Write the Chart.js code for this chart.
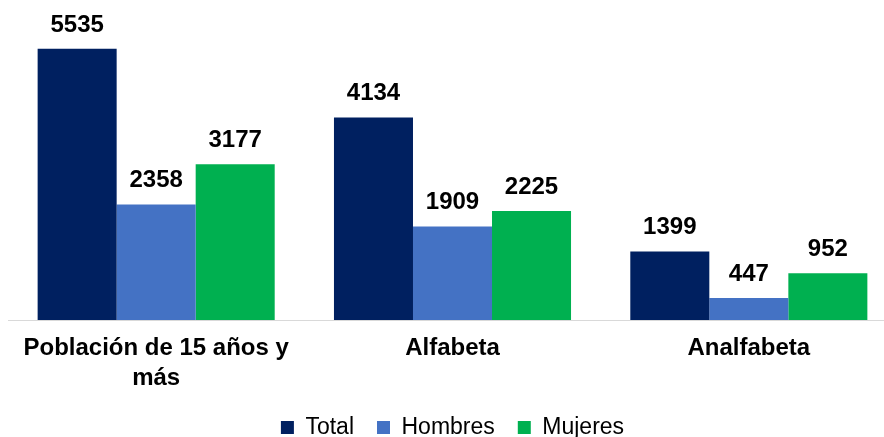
<!DOCTYPE html>
<html>
<head>
<meta charset="utf-8">
<script src="https://cdn.jsdelivr.net/npm/chart.js@4/dist/chart.umd.min.js"></script>
<style>
  html, body { margin: 0; padding: 0; overflow: hidden; background: #fff; }
  #wrap { width: 884px; height: 437px; overflow: hidden; position: relative; }
  canvas { position: absolute; left: 0; top: 0; }
</style>
</head>
<body>
<div id="wrap"><canvas id="chart" width="916" height="449"></canvas></div>
<script>
const CATEGORIES = [["Población de 15 años y", "más"], "Alfabeta", "Analfabeta"];
const TOTAL = [5535, 4134, 1399];
const HOMBRES = [2358, 1909, 447];
const MUJERES = [3177, 2225, 952];

const FONT = "'Liberation Sans', Arial, sans-serif";

// draws the value above every bar, from the bar elements' own positions
const valueLabels = {
  id: "valueLabels",
  afterDatasetsDraw(chart) {
    const ctx = chart.ctx;
    ctx.save();
    ctx.font = `bold 24px ${FONT}`;
    ctx.fillStyle = "#000";
    ctx.textAlign = "center";
    ctx.textBaseline = "alphabetic";
    chart.data.datasets.forEach((dataset, i) => {
      chart.getDatasetMeta(i).data.forEach((bar, j) => {
        ctx.fillText(String(dataset.data[j]), bar.x, bar.y - 17);
      });
    });
    ctx.restore();
  },
};

new Chart(document.getElementById("chart").getContext("2d"), {
  type: "bar",
  data: {
    labels: CATEGORIES,
    datasets: [
      { label: "Total", data: TOTAL, backgroundColor: "#002060" },
      { label: "Hombres", data: HOMBRES, backgroundColor: "#4472C4" },
      { label: "Mujeres", data: MUJERES, backgroundColor: "#00B050" },
    ],
  },
  plugins: [valueLabels],
  options: {
    responsive: false,
    animation: false,
    devicePixelRatio: 1,
    layout: { padding: { left: 8, right: 19, top: 26, bottom: 0 } },
    datasets: {
      bar: { categoryPercentage: 0.8, barPercentage: 1.0 },
    },
    plugins: {
      tooltip: { enabled: false },
      legend: {
        position: "bottom",
        labels: {
          boxWidth: 13,
          boxHeight: 13,
          padding: 23,
          color: "#000",
          font: { family: FONT, size: 23 },
        },
      },
    },
    scales: {
      x: {
        grid: { display: false, drawTicks: false },
        border: { display: true, color: "#d9d9d9", width: 1 },
        ticks: {
          color: "#000",
          padding: 13,
          maxRotation: 0,
          autoSkip: false,
          font: { family: FONT, size: 24, weight: "bold", lineHeight: "30px" },
        },
        // the labels may run into the gap above the legend
        afterFit(scale) {
          scale.height -= 13;
        },
      },
      y: {
        display: false,
        min: 0,
        max: 6000,
      },
    },
  },
});
</script>
</body>
</html>
